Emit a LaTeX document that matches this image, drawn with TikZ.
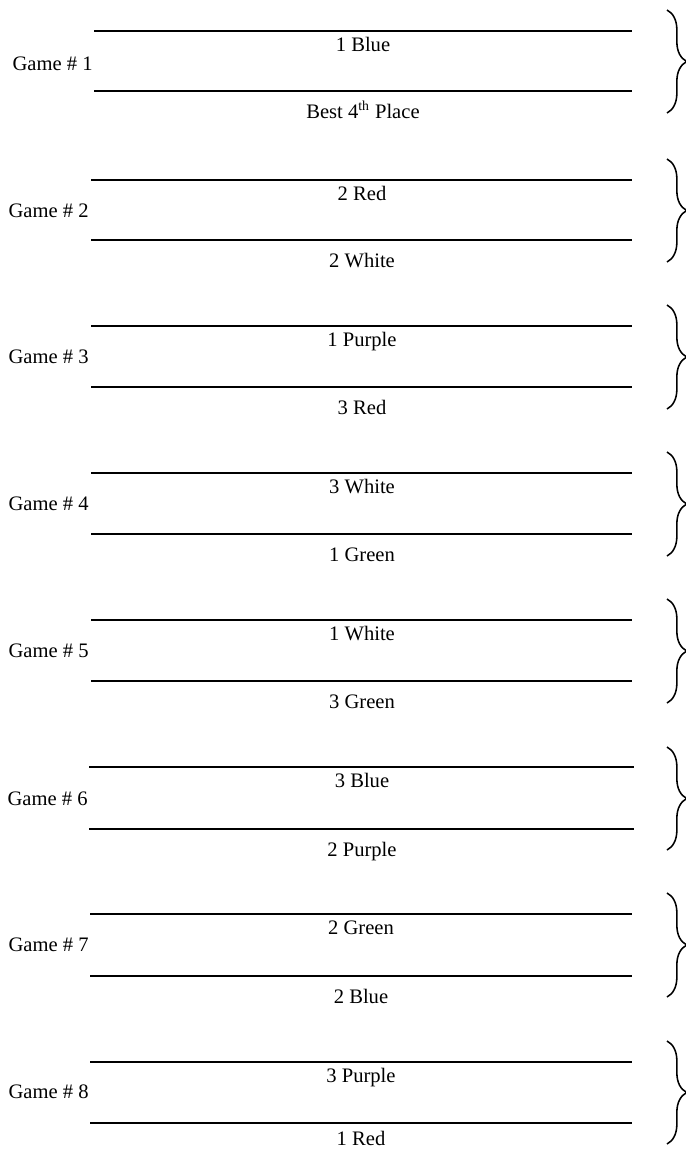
\documentclass[tikz,border=0pt]{standalone}
\usepackage{fontspec}
\setmainfont{Liberation Serif}
\usetikzlibrary{decorations.pathreplacing}

\begin{document}
\begin{tikzpicture}[x=0.583pt, y=-0.583pt,
    font=\fontsize{12pt}{14pt}\selectfont,
    slot/.style={line width=1.2pt},
    bracket/.style={line width=0.9pt, decorate,
        decoration={brace, amplitude=11.5pt}},
    team/.style={anchor=base, inner sep=0pt},
    game/.style={anchor=base east, inner sep=0pt}]

    \useasboundingbox (0,0) rectangle (686,1150);

    % ============================================================
    % GAME 1
    % ============================================================
    \node[game] (game1) at (93,70) {Game \# 1};
    \draw[slot] (94,31) -- (632,31);
    \node[team] (g1a) at (363,51) {1 Blue};
    \draw[slot] (94,91) -- (632,91);
    \node[team] (g1b) at (363,118) {Best 4\textsuperscript{th} Place};
    \draw[bracket] (667,10) -- (667,113);

    % ============================================================
    % GAME 2
    % ============================================================
    \node[game] (game2) at (89,217) {Game \# 2};
    \draw[slot] (91,180) -- (632,180);
    \node[team] (g2a) at (362,200) {2 Red};
    \draw[slot] (91,240) -- (632,240);
    \node[team] (g2b) at (362,267) {2 White};
    \draw[bracket] (667,159) -- (667,262);

    % ============================================================
    % GAME 3
    % ============================================================
    \node[game] (game3) at (89,363) {Game \# 3};
    \draw[slot] (91,326) -- (632,326);
    \node[team] (g3a) at (362,346) {1 Purple};
    \draw[slot] (91,387) -- (632,387);
    \node[team] (g3b) at (362,414) {3 Red};
    \draw[bracket] (667,305) -- (667,409);

    % ============================================================
    % GAME 4
    % ============================================================
    \node[game] (game4) at (89,510) {Game \# 4};
    \draw[slot] (91,473) -- (632,473);
    \node[team] (g4a) at (362,493) {3 White};
    \draw[slot] (91,534) -- (632,534);
    \node[team] (g4b) at (362,561) {1 Green};
    \draw[bracket] (667,452) -- (667,556);

    % ============================================================
    % GAME 5
    % ============================================================
    \node[game] (game5) at (89,657) {Game \# 5};
    \draw[slot] (91,620) -- (632,620);
    \node[team] (g5a) at (362,640) {1 White};
    \draw[slot] (91,681) -- (632,681);
    \node[team] (g5b) at (362,708) {3 Green};
    \draw[bracket] (667,599) -- (667,703);

    % ============================================================
    % GAME 6
    % ============================================================
    \node[game] (game6) at (88,805) {Game \# 6};
    \draw[slot] (89,767) -- (634,767);
    \node[team] (g6a) at (362,787) {3 Blue};
    \draw[slot] (89,829) -- (634,829);
    \node[team] (g6b) at (362,856) {2 Purple};
    \draw[bracket] (667,747) -- (667,850);

    % ============================================================
    % GAME 7
    % ============================================================
    \node[game] (game7) at (89,951) {Game \# 7};
    \draw[slot] (90,914) -- (632,914);
    \node[team] (g7a) at (361,934) {2 Green};
    \draw[slot] (90,976) -- (632,976);
    \node[team] (g7b) at (361,1003) {2 Blue};
    \draw[bracket] (667,893) -- (667,997);

    % ============================================================
    % GAME 8
    % ============================================================
    \node[game] (game8) at (89,1098) {Game \# 8};
    \draw[slot] (90,1062) -- (632,1062);
    \node[team] (g8a) at (361,1082) {3 Purple};
    \draw[slot] (90,1123) -- (632,1123);
    \node[team] (g8b) at (361,1145) {1 Red};
    \draw[bracket] (667,1041) -- (667,1144);

\end{tikzpicture}
\end{document}
